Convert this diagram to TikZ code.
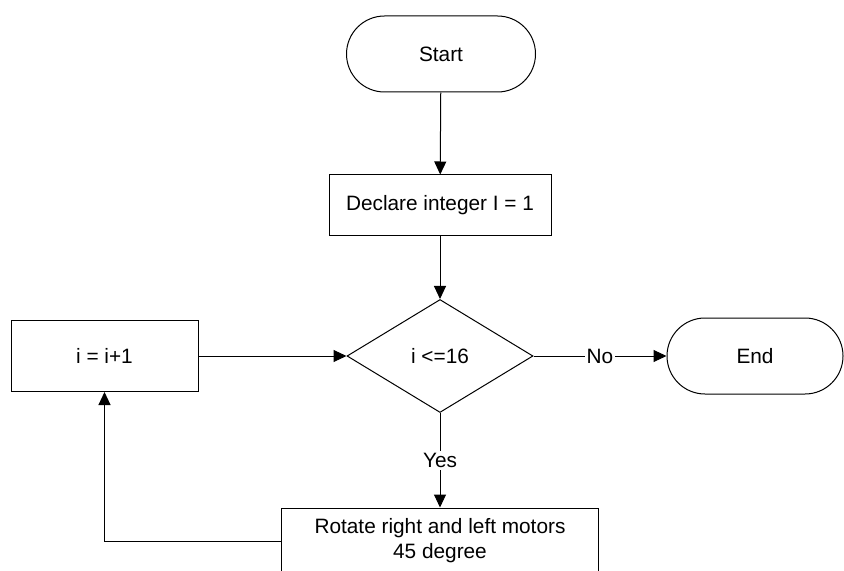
\documentclass[tikz,border=0pt]{standalone}
\usepackage{fontspec}
\setmainfont{Liberation Sans}
\usetikzlibrary{arrows.meta, shapes.geometric, shapes.misc}

\begin{document}
\begin{tikzpicture}[x=0.5pt, y=-0.5pt, line width=0.5pt,
    >={Triangle[length=6.5pt, width=6pt]},
    every node/.style={font=\fontsize{10.4}{12.5}\selectfont},
    term/.style={draw, rounded rectangle, inner sep=0pt,
                 minimum width=#1, minimum height=38pt},
    procbox/.style={draw, rectangle, inner sep=0pt, align=center},
    decision/.style={draw, diamond, inner sep=0pt,
                     minimum width=93pt, minimum height=56.5pt},
    lbl/.style={fill=white, inner sep=1pt}]
  \clip (0,0) rectangle (844,571);

  % Terminals
  \node[term=94.5pt] (start) at (441,54) {Start};
  \node[term=88pt]   (stop)  at (755,356) {End};

  % Steps
  \node[procbox, minimum width=111pt, minimum height=30.5pt] (init) at (440,205.5)
    {Declare integer I = 1};
  \node[decision] (check) at (440,356) {i <=16};
  \node[procbox, minimum width=93.5pt, minimum height=35.5pt] (incr) at (104.5,356)
    {i = i+1};
  \node[procbox, minimum width=158.5pt, minimum height=33pt] (rotate) at (440,541)
    {Rotate right and left motors\\45 degree};

  % Flow
  \draw[->] (start) -- (init);
  \draw[->] (init) -- (check);
  \draw[->] (check.east) -- node[lbl] {No} (stop.west);
  \draw[->] (check.south) -- node[lbl] {Yes} (rotate.north);
  \draw[->] (rotate.west) -| (incr.south);
  \draw[->] (incr.east) -- (check.west);
\end{tikzpicture}
\end{document}
